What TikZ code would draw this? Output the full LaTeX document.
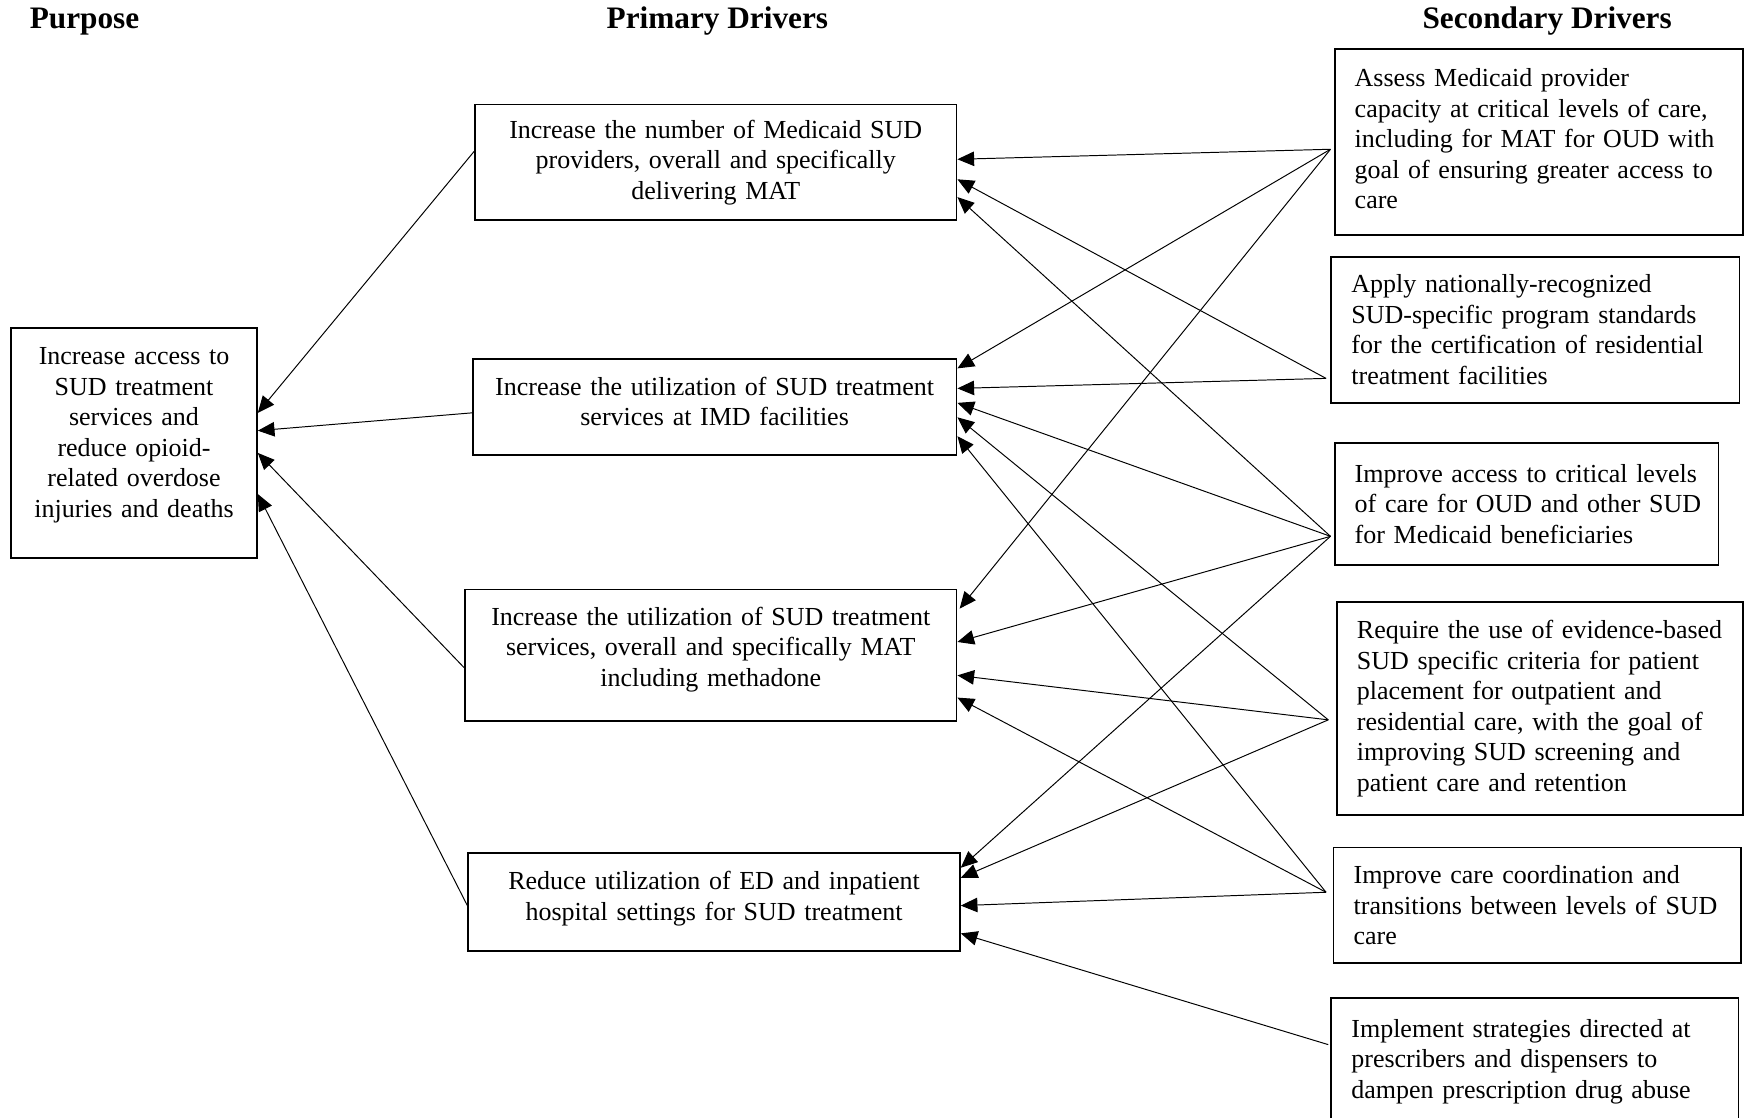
\documentclass[tikz,border=0pt]{standalone}
\usepackage{fontspec}
\setmainfont{Liberation Serif}
\usetikzlibrary{arrows.meta}

\begin{document}
\begin{tikzpicture}[x=0.2mm,y=-0.2mm,>={Triangle[length=3mm,width=2.6mm]},
                    line width=0.5pt,
                    font=\fontsize{13.3}{15.6}\selectfont]
  \tikzstyle{heading}=[font=\fontsize{16}{18}\selectfont\bfseries]
  \tikzstyle{aimbox}=[draw,line width=0.9pt,align=center,inner xsep=1mm]
  \tikzstyle{primary}=[aimbox]
  \tikzstyle{secondary}=[draw,line width=0.9pt,align=left,inner xsep=0pt,
                         execute at begin node={\leftskip=3.6mm}]
  % pushes the text of a box up by half of #1
  \tikzset{lift/.style={execute at end node={\par\vskip#1\hrule height0pt}}}

  \useasboundingbox (0,0) rectangle (1568,1005);

  % column headings
  \node[heading] (purposehead)   at (76,19)   {Purpose};
  \node[heading] (primaryhead)   at (645,19)  {Primary Drivers};
  \node[heading] (secondaryhead) at (1391,19) {Secondary Drivers};

  % purpose
  \node[aimbox, lift=2.8mm, text width=42.2mm, minimum height=41.4mm] (aim) at (120.5,398.5)
    {Increase access to\\ SUD treatment\\ services and\\ reduce opioid-\\related overdose\\ injuries and deaths};

  % primary drivers
  \node[primary, text width=84.6mm, minimum height=20.8mm] (p1) at (643.5,146)
    {Increase the number of Medicaid SUD\\ providers, overall and specifically\\ delivering MAT};
  \node[primary, lift=2mm, text width=85mm, minimum height=17.2mm] (p2) at (642.5,366)
    {Increase the utilization of SUD treatment\\ services at IMD facilities};
  \node[primary, lift=2mm, text width=86.4mm, minimum height=23.6mm] (p3) at (639,589)
    {Increase the utilization of SUD treatment\\ services, overall and specifically MAT\\ including methadone};
  \node[primary, lift=1.2mm, text width=86.4mm, minimum height=17.6mm] (p4) at (642,811)
    {Reduce utilization of ED and inpatient\\ hospital settings for SUD treatment};

  % secondary drivers
  \node[secondary, lift=1mm, text width=73.4mm, minimum height=33.4mm] (s1) at (1383.5,127.5)
    {Assess Medicaid provider\\ capacity at critical levels of care,\\ including for MAT for OUD with\\ goal of ensuring greater access to\\ care};
  \node[secondary, text width=73.4mm, minimum height=26.2mm] (s2) at (1380.5,296.5)
    {Apply nationally-recognized\\ SUD-specific program standards\\ for the certification of residential\\ treatment facilities};
  \node[secondary, text width=69mm, minimum height=22mm] (s3) at (1372.5,453)
    {Improve access to critical levels\\ of care for OUD and other SUD\\ for Medicaid beneficiaries};
  \node[secondary, text width=73mm, minimum height=38.4mm] (s4) at (1384.5,637)
    {Require the use of evidence-based\\ SUD specific criteria for patient\\ placement for outpatient and\\ residential care, with the goal of\\ improving SUD screening and\\ patient care and retention};
  \node[secondary, text width=73.2mm, minimum height=20.8mm] (s5) at (1382,814)
    {Improve care coordination and\\ transitions between levels of SUD\\ care};
  \node[secondary, text width=73.2mm, minimum height=23mm] (s6) at (1380,954.5)
    {Implement strategies directed at\\ prescribers and dispensers to\\ dampen prescription drug abuse};

  % primary drivers -> purpose
  \draw[->] ([yshift=-8.6mm]p1.north west)  -- ([yshift=-15.4mm]aim.north east);
  \draw[->] ([yshift=-9.8mm]p2.north west)  -- ([yshift=-18.6mm]aim.north east);
  \draw[->] ([yshift=-14.2mm]p3.north west) -- ([yshift=-22.6mm]aim.north east);
  \draw[->] ([yshift=-9.6mm]p4.north west)  -- ([yshift=-30mm]aim.north east);

  % secondary drivers -> primary drivers
  \coordinate (s1out) at ([shift={(-0.6mm,-18.2mm)}]s1.north west);
  \coordinate (s2out) at ([shift={(-0.8mm,-22mm)}]s2.north west);
  \coordinate (s3out) at ([shift={(-0.6mm,-17mm)}]s3.north west);
  \coordinate (s4out) at ([shift={(-1.4mm,-21.4mm)}]s4.north west);
  \coordinate (s5out) at ([shift={(-1.2mm,-8.2mm)}]s5.north west);
  \coordinate (s6out) at ([shift={(-0.4mm,-8.6mm)}]s6.north west);

  \path[->]
    (s1out) edge ([yshift=-10mm]p1.north east)
    (s1out) edge ([yshift=-1.8mm]p2.north east)
    (s1out) edge ([shift={(0.4mm,-3.6mm)}]p3.north east)
    (s2out) edge ([yshift=-13.6mm]p1.north east)
    (s2out) edge ([yshift=-5.4mm]p2.north east)
    (s3out) edge ([yshift=-16.8mm]p1.north east)
    (s3out) edge ([yshift=-8mm]p2.north east)
    (s3out) edge ([yshift=-9.6mm]p3.north east)
    (s3out) edge ([yshift=-2.8mm]p4.north east)
    (s4out) edge ([yshift=-10.6mm]p2.north east)
    (s4out) edge ([yshift=-15.6mm]p3.north east)
    (s4out) edge ([yshift=-4.6mm]p4.north east)
    (s5out) edge ([yshift=-14mm]p2.north east)
    (s5out) edge ([yshift=-19.6mm]p3.north east)
    (s5out) edge ([yshift=-9.6mm]p4.north east)
    (s6out) edge ([yshift=-14.6mm]p4.north east);
\end{tikzpicture}
\end{document}
